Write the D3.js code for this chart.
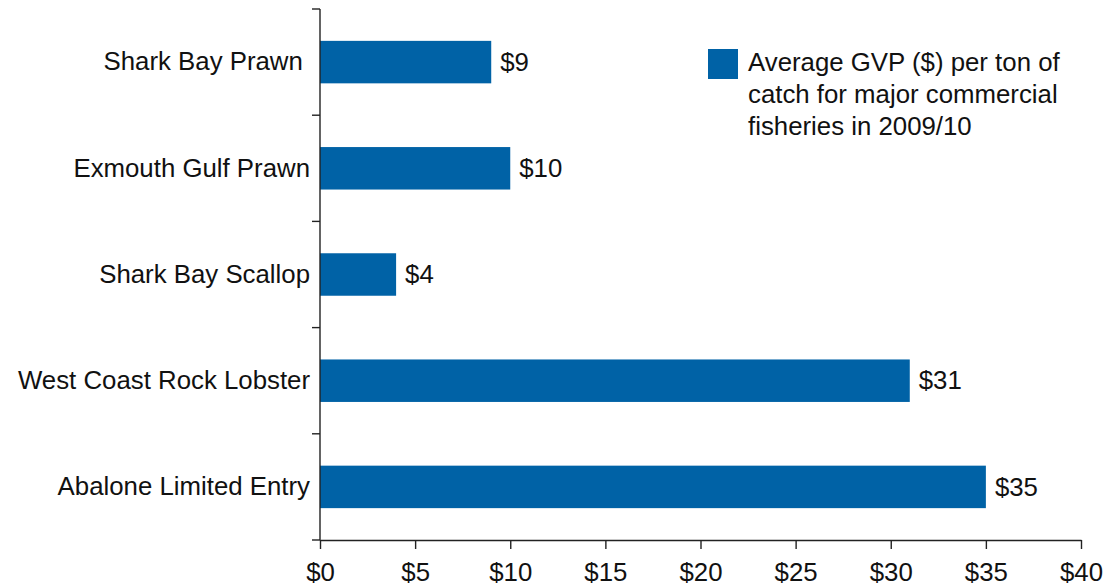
<!DOCTYPE html>
<html>
<head>
<meta charset="utf-8">
<script src="https://cdn.jsdelivr.net/npm/d3@7"></script>
<style>
  html, body { margin: 0; padding: 0; background: #fff; }
  svg { display: block; }
  text { font-family: "Liberation Sans", Arial, sans-serif; fill: #111; }
</style>
</head>
<body>
<svg id="chart" width="1113" height="588"></svg>
<script>
// Fisheries, top to bottom
const fisheries = ["Shark Bay Prawn ", "Exmouth Gulf Prawn", "Shark Bay Scallop", "West Coast Rock Lobster", "Abalone Limited Entry"];
// Average GVP ($) per ton of catch, 2009/10
const gvpPerTon = [9, 10, 4, 31, 35];
const xTicks = [0, 5, 10, 15, 20, 25, 30, 35, 40];
const legendLines = ["Average GVP ($) per ton of", "catch for major commercial", "fisheries in 2009/10"];

const barColor = "#0062a6";
const axisColor = "#222";
const fontSize = 25.8;

const svg = d3.select("#chart");
const plotLeft = 320, plotRight = 1081, plotTop = 9, plotBottom = 540;

const x = d3.scaleLinear().domain([0, 40]).range([plotLeft, plotRight]);
const y = d3.scaleBand().domain(fisheries).range([plotTop, plotBottom])
  .paddingInner(0.6).paddingOuter(0.3);

// Bars
svg.append("g").selectAll("rect")
  .data(fisheries)
  .join("rect")
  .attr("x", x(0))
  .attr("y", d => y(d))
  .attr("width", (d, i) => x(gvpPerTon[i]) - x(0))
  .attr("height", y.bandwidth())
  .attr("fill", barColor);

// Value labels
svg.append("g").selectAll("text")
  .data(fisheries)
  .join("text")
  .attr("x", (d, i) => x(gvpPerTon[i]) + 9)
  .attr("y", d => y(d) + y.bandwidth() / 2)
  .attr("dy", "0.34em")
  .style("font-size", fontSize + "px")
  .text((d, i) => "$" + gvpPerTon[i]);

// Category axis: boundary ticks between bands
const step = y.step();
const boundaries = d3.range(fisheries.length + 1).map(i => plotTop + i * step);
const yAxis = svg.append("g");
yAxis.append("line")
  .attr("x1", plotLeft).attr("x2", plotLeft)
  .attr("y1", plotTop).attr("y2", plotBottom)
  .attr("stroke", axisColor).attr("stroke-width", 1.4);
yAxis.selectAll("line.tick")
  .data(boundaries)
  .join("line")
  .attr("class", "tick")
  .attr("x1", plotLeft - 8).attr("x2", plotLeft)
  .attr("y1", d => d).attr("y2", d => d)
  .attr("stroke", axisColor).attr("stroke-width", 1.4);
yAxis.selectAll("text")
  .data(fisheries)
  .join("text")
  .attr("x", plotLeft - 10)
  .attr("y", d => y(d) + y.bandwidth() / 2)
  .attr("dy", "0.32em")
  .attr("text-anchor", "end")
  .style("white-space", "pre")
  .style("font-size", fontSize + "px")
  .text(d => d);

// Value axis
const xAxis = svg.append("g").attr("transform", `translate(0,${plotBottom})`)
  .call(d3.axisBottom(x).tickValues(xTicks).tickSize(9).tickSizeOuter(0)
    .tickPadding(14).tickFormat(d => "$" + d));
xAxis.select(".domain").attr("stroke", axisColor).attr("stroke-width", 1.4);
xAxis.selectAll(".tick line").attr("stroke", axisColor).attr("stroke-width", 1.4);
xAxis.selectAll(".tick text")
  .attr("font-family", null)
  .style("font-size", fontSize + "px")
  .attr("fill", "#111");

// Legend
const legend = svg.append("g");
legend.append("rect")
  .attr("x", 708).attr("y", 49)
  .attr("width", 30).attr("height", 30)
  .attr("fill", barColor);
legend.selectAll("text")
  .data(legendLines)
  .join("text")
  .attr("x", 748)
  .attr("y", (d, i) => 71 + i * 32)
  .style("font-size", fontSize + "px")
  .text(d => d);
</script>
</body>
</html>
